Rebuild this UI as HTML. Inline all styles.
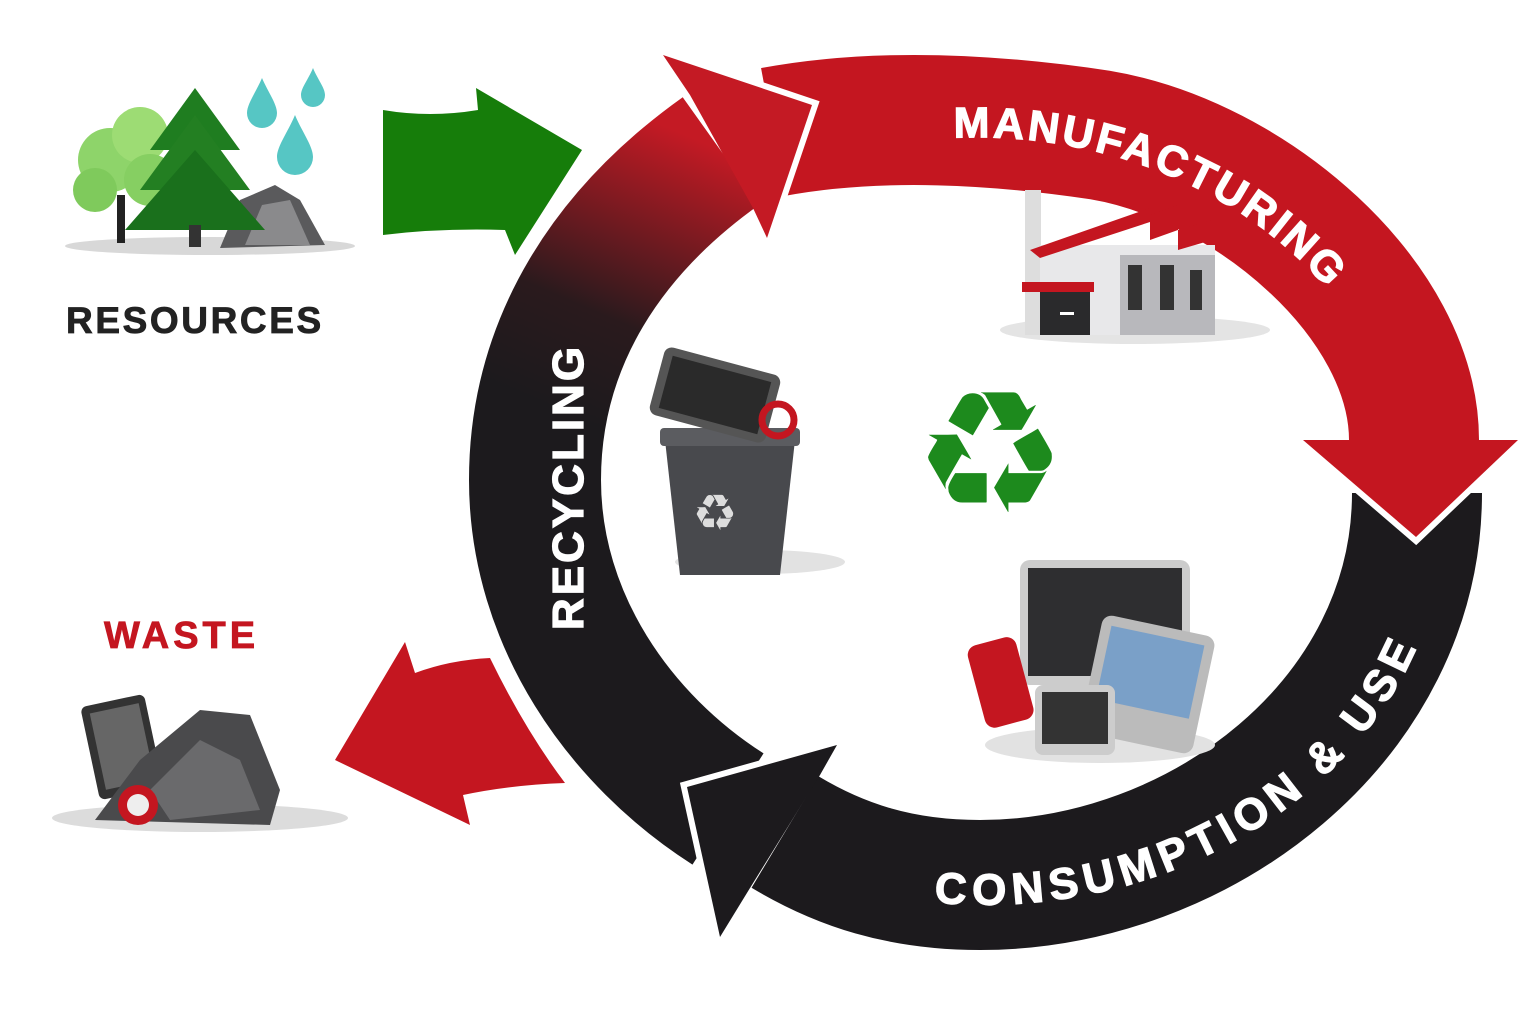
<!DOCTYPE html>
<html><head><meta charset="utf-8"><style>
html,body{margin:0;padding:0;background:#fff;}
svg{display:block;}
text{font-family:"Liberation Sans","DejaVu Sans",sans-serif;font-weight:bold;}
</style></head><body>
<svg width="1536" height="1024" viewBox="0 0 1536 1024" xmlns="http://www.w3.org/2000/svg">
<defs>
<linearGradient id="rg" gradientUnits="userSpaceOnUse" x1="600" y1="430" x2="720" y2="150">
<stop offset="0" stop-color="#1c1a1d"/><stop offset="0.35" stop-color="#2a1a1d"/><stop offset="1" stop-color="#c41a24"/>
</linearGradient>
<path id="mp" d="M 902 143 A 433 368 0 0 1 1384 379"/>
<path id="cp" d="M 712 829 A 463 398 0 0 0 1438 430"/>
</defs>

<path d="M1417 493 C 1417 720 1200 885 980 885 C 900 885 840 865 785 832" fill="none" stroke="#1c1a1d" stroke-width="130"/>
<path d="M773 132 C 880 112 1000 120 1100 135 C 1250 160 1414 300 1414 440" fill="none" stroke="#c41620" stroke-width="130"/>
<path d="M728 809 C 620 740 535 620 535 480 C 535 340 610 230 721 151" fill="none" stroke="url(#rg)" stroke-width="132"/>

<polyline points="663,55 812,105 767,238" fill="none" stroke="#fff" stroke-width="12" stroke-linejoin="miter"/>
<polygon points="663,55 812,105 767,238 753,208 690,95" fill="#c41a24"/>
<polyline points="1303,440 1416,537 1518,440" fill="none" stroke="#fff" stroke-width="12" stroke-linejoin="miter"/>
<polygon points="1303,440 1350,440 1478,440 1518,440 1416,537" fill="#c41620"/>
<polyline points="837,745 687,787 720,937" fill="none" stroke="#fff" stroke-width="12" stroke-linejoin="miter"/>
<polygon points="837,745 820,775 750,888 720,937 687,787" fill="#1c1a1d"/>

<text font-size="43" fill="#fff" stroke="#fff" stroke-width="1.2" letter-spacing="3"><textPath href="#mp" startOffset="52">MANUFACTURING</textPath></text>
<text font-size="44" fill="#fff" stroke="#fff" stroke-width="1.2" letter-spacing="6.5"><textPath href="#cp" startOffset="236">CONSUMPTION &amp; USE</textPath></text>
<text font-size="44" fill="#fff" stroke="#fff" stroke-width="1.2" letter-spacing="3" transform="translate(583,487) rotate(-90)" text-anchor="middle">RECYCLING</text>

<path d="M383 110 Q430 118 478 110 L476 88 L582 150 L515 255 L505 230 Q440 228 383 235 Z" fill="#167d0a"/>
<path d="M335 760 L405 642 L415 673 Q450 660 490 658 Q525 730 565 783 Q510 785 463 795 L470 825 Z" fill="#c41620"/>

<ellipse cx="210" cy="246" rx="145" ry="9" fill="#d8d8d8"/>
<path d="M220 248 L240 200 L275 185 L300 200 L325 245 Z" fill="#5a5a5c"/>
<path d="M245 245 L262 205 L290 200 L310 245 Z" fill="#8a8a8c"/>
<circle cx="110" cy="160" r="32" fill="#8ed46a"/><circle cx="140" cy="135" r="28" fill="#9ddc74"/>
<circle cx="95" cy="190" r="22" fill="#7fca5c"/><circle cx="150" cy="180" r="26" fill="#86cf62"/>
<rect x="117" y="195" width="8" height="48" fill="#222"/>
<polygon points="195,88 150,150 240,150" fill="#1f7d20"/>
<polygon points="195,115 140,190 250,190" fill="#237f22"/>
<polygon points="195,150 125,230 265,230" fill="#1a701c"/>
<rect x="189" y="225" width="12" height="22" fill="#333"/>
<path d="M262 78 C256 92 247 104 247 113 A15 15 0 0 0 277 113 C277 104 268 92 262 78Z" fill="#56c6c4"/>
<path d="M313 68 C308 80 301 88 301 95 A12 12 0 0 0 325 95 C325 88 318 80 313 68Z" fill="#56c6c4"/>
<path d="M295 115 C288 132 277 146 277 157 A18 18 0 0 0 313 157 C313 146 302 132 295 115Z" fill="#56c6c4"/>
<text x="66" y="333" font-size="37" fill="#222" stroke="#222" stroke-width="0.8" letter-spacing="2.6">RESOURCES</text>

<text x="104" y="648" font-size="38" fill="#c41620" stroke="#c41620" stroke-width="0.8" letter-spacing="4">WASTE</text>
<ellipse cx="200" cy="818" rx="148" ry="14" fill="#dcdcdc"/>
<rect x="90" y="700" width="65" height="95" rx="6" fill="#333" transform="rotate(-12 120 750)"/>
<rect x="98" y="708" width="50" height="78" fill="#666" transform="rotate(-12 120 750)"/>
<path d="M95 820 L140 760 L200 710 L250 715 L280 790 L270 825 Z" fill="#4a4a4c"/>
<path d="M150 790 L200 740 L240 760 L260 810 L170 820 Z" fill="#6a6a6c"/>
<circle cx="138" cy="805" r="20" fill="#c41620"/><circle cx="138" cy="805" r="11" fill="#eee"/>

<ellipse cx="1135" cy="330" rx="135" ry="14" fill="#e4e4e4"/>
<rect x="1025" y="185" width="16" height="150" fill="#ddd"/><rect x="1025" y="182" width="16" height="8" fill="#c41620"/>
<rect x="1040" y="245" width="175" height="90" fill="#e8e8ea"/>
<polygon points="1030,250 1150,208 1150,222 1040,258" fill="#c41620"/>
<polygon points="1150,215 1178,205 1178,230 1150,240" fill="#c41620"/>
<polygon points="1178,230 1212,220 1212,240 1178,250" fill="#c41620"/>
<rect x="1120" y="255" width="95" height="80" fill="#b8b8bc"/>
<rect x="1128" y="265" width="14" height="45" fill="#333"/><rect x="1160" y="265" width="14" height="45" fill="#333"/><rect x="1190" y="270" width="12" height="40" fill="#333"/>
<rect x="1022" y="282" width="72" height="10" fill="#c41620"/>
<rect x="1040" y="292" width="50" height="43" fill="#2a2a2c"/>
<rect x="1060" y="312" width="14" height="3" fill="#fff"/>

<text x="990" y="512" font-size="170" fill="#1d8a1d" text-anchor="middle" style="font-family:'DejaVu Sans',sans-serif;font-weight:normal">♻</text>

<ellipse cx="760" cy="562" rx="85" ry="12" fill="#e2e2e2"/>
<polygon points="665,440 795,440 780,575 680,575" fill="#48494d"/>
<rect x="660" y="428" width="140" height="18" rx="4" fill="#5b5c60"/>
<rect x="655" y="360" width="120" height="70" rx="8" fill="#555" transform="rotate(15 715 395)"/>
<rect x="664" y="368" width="102" height="54" fill="#2a2a2a" transform="rotate(15 715 395)"/>
<circle cx="778" cy="420" r="16" fill="none" stroke="#c41620" stroke-width="7"/>
<text x="715" y="530" font-size="50" fill="#ddd" text-anchor="middle" style="font-family:'DejaVu Sans',sans-serif;font-weight:normal">♻</text>

<ellipse cx="1100" cy="745" rx="115" ry="18" fill="#e2e2e2"/>
<rect x="1020" y="560" width="170" height="125" rx="10" fill="#ccc"/>
<rect x="1028" y="568" width="154" height="108" fill="#2e2e30"/>
<rect x="1090" y="625" width="115" height="120" rx="10" fill="#bbb" transform="rotate(12 1150 685)"/>
<rect x="1100" y="635" width="95" height="75" fill="#7aa0c8" transform="rotate(12 1150 685)"/>
<rect x="975" y="640" width="50" height="85" rx="10" fill="#c41620" transform="rotate(-15 1000 680)"/>
<rect x="1035" y="685" width="80" height="70" rx="8" fill="#ccc"/>
<rect x="1042" y="692" width="66" height="52" fill="#333"/>
</svg>
</body></html>
